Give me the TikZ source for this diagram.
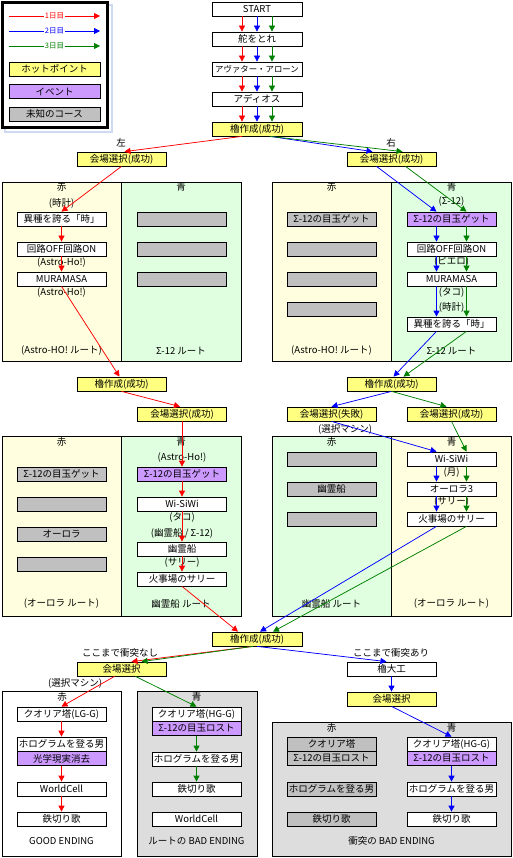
\documentclass[tikz,border=0pt]{standalone}
\usepackage{fontspec}
\setmainfont{Noto Sans CJK JP}
\usepackage{xcolor}
\usepackage{tikz}
\usetikzlibrary{arrows.meta, positioning, calc}
\definecolor{hotyellow}{RGB}{255, 255, 128}
\definecolor{eventpurple}{RGB}{204, 153, 255}
\definecolor{unknowngray}{RGB}{192, 192, 192}
\definecolor{panelyellow}{RGB}{255, 255, 224}
\definecolor{panelgreen}{RGB}{224, 255, 224}
\definecolor{panelgray}{RGB}{221, 221, 221}
\definecolor{dkgreen}{RGB}{0, 128, 0}
\definecolor{frameblue}{RGB}{205, 218, 240}

\begin{document}
\begin{tikzpicture}[x=1pt, y=-1pt, >={Triangle[length=6pt, width=6pt]},
    box/.style={draw, line width=0.75pt, fill=white, minimum width=89pt, minimum height=14pt,
        inner sep=0pt, font=\fontsize{9.5}{10}\selectfont},
    hot/.style={box, fill=hotyellow},
    event/.style={box, fill=eventpurple},
    unknown/.style={box, fill=unknowngray},
    lbl/.style={inner sep=0pt, font=\fontsize{9.5}{10}\selectfont},
    daylbl/.style={fill=white, inner sep=0.5pt, font=\fontsize{7.5}{8}\selectfont},
    panel/.style={draw, line width=0.75pt},
    every path/.append style={line width=0.75pt}]
    \useasboundingbox (0,0) rectangle (513,858);

    % legend
    \draw[frameblue, line width=2pt, fill=white] (5,5) rectangle (112,132);
    \draw[line width=3pt, fill=white] (2.5,2.5) rectangle (107.5,127.5);
    \foreach \i/\c/\y in {1/red/16, 2/blue/31, 3/dkgreen/46} {
        \coordinate (day\i a) at (9,\y);
        \coordinate (day\i b) at (100,\y);
        \draw[->, \c] (day\i a) -- node[daylbl] (day\i) {\i 日目} (day\i b);
    }
    \node[hot, minimum width=91pt] (keyhot) at (54.5,69) {ホットポイント};
    \node[event, minimum width=91pt] (keyevent) at (54.5,91.5) {イベント};
    \node[unknown, minimum width=91pt] (keyunknown) at (54.5,114) {未知のコース};

    % opening
    \node[box, minimum width=90pt] (start) at (257,9) {START};
    \node[box, minimum width=90pt] (rudder) at (257,39) {舵をとれ};
    \node[box, minimum width=90pt, font=\fontsize{8.4}{10}\selectfont] (avatar) at (257,69) {アヴァター・アローン};
    \node[box, minimum width=90pt] (adios) at (257,99) {アディオス};
    \node[hot, minimum width=90pt] (yagura1) at (257,129) {櫓作成(成功)};
    \node[lbl] (leftword) at (121,143) {左};
    \node[lbl] (rightword) at (391,143) {右};
    \node[hot] (selL1) at (121.5,159) {会場選択(成功)};
    \node[hot] (selR1) at (391.5,159) {会場選択(成功)};

    % top left panel
    \draw[panel, fill=panelyellow] (2,182) rectangle (121,361);
    \draw[panel, fill=panelgreen] (121,182) rectangle (241,361);
    \node[lbl] (tlRed) at (61.5,187) {赤};
    \node[lbl] (tlBlue) at (181,187) {青};
    \node[lbl] (tlClock) at (61.5,203) {(時計)};
    \node[box] (tlPride) at (61.5,219) {異種を誇る「時」};
    \node[box] (tlCircuit) at (61.5,249) {回路OFF回路ON};
    \node[lbl] (tlAstroA) at (61.5,263) {(Astro-Ho!)};
    \node[box] (tlMura) at (61.5,279) {MURAMASA};
    \node[lbl] (tlAstroB) at (61.5,293) {(Astro-Ho!)};
    \foreach \y [count=\k] in {219, 249, 279}
        \node[unknown] (tlU\k) at (182,\y) {};
    \node[lbl] (tlRouteA) at (61.5,351) {(Astro-HO! ルート)};
    \node[lbl] (tlRouteB) at (181,351) {Σ-12 ルート};

    % top right panel
    \draw[panel, fill=panelyellow] (272,182) rectangle (391,361);
    \draw[panel, fill=panelgreen] (391,182) rectangle (511,361);
    \node[lbl] (trRed) at (331.5,187) {赤};
    \node[lbl] (trBlue) at (451.5,187) {青};
    \node[lbl] (trSigmaNote) at (451.5,202) {(Σ-12)};
    \node[unknown] (trEye) at (331.5,219) {Σ-12の目玉ゲット};
    \foreach \y [count=\k] in {249, 279, 309}
        \node[unknown] (trU\k) at (331.5,\y) {};
    \node[event] (trSigma) at (451.5,219) {Σ-12の目玉ゲット};
    \node[box] (trCircuit) at (451.5,249) {回路OFF回路ON};
    \node[lbl] (trPierrot) at (451.5,262) {(ピエロ)};
    \node[box] (trMura) at (451.5,279) {MURAMASA};
    \node[lbl] (trOctopus) at (451.5,293) {(タコ)};
    \node[lbl] (trClock) at (451.5,307) {(時計)};
    \node[box] (trPride) at (451.5,324) {異種を誇る「時」};
    \node[lbl] (trRouteA) at (331.5,351) {(Astro-HO! ルート)};
    \node[lbl] (trRouteB) at (451.5,351) {Σ-12 ルート};

    % second round
    \node[hot] (yagura2) at (121.5,384) {櫓作成(成功)};
    \node[hot] (selL2) at (182,414) {会場選択(成功)};
    \node[hot] (yagura3) at (391.5,384) {櫓作成(成功)};
    \node[hot] (selFail) at (331.5,414) {会場選択(失敗)};
    \node[hot] (selR2) at (451.5,414) {会場選択(成功)};
    \node[lbl] (machineA) at (345,429) {(選択マシン)};

    % middle left panel
    \draw[panel, fill=panelyellow] (2,436) rectangle (121,616);
    \draw[panel, fill=panelgreen] (121,436) rectangle (241,616);
    \node[lbl] (mlRed) at (61.5,442) {赤};
    \node[lbl] (mlBlue) at (181,442) {青};
    \node[lbl] (mlAstro) at (182,458) {(Astro-Ho!)};
    \node[unknown] (mlEye) at (61.5,474) {Σ-12の目玉ゲット};
    \node[unknown] (mlU1) at (61.5,504) {};
    \node[unknown] (mlAurora) at (61.5,534) {オーロラ};
    \node[unknown] (mlU2) at (61.5,564) {};
    \node[event] (mlSigma) at (182,474) {Σ-12の目玉ゲット};
    \node[box] (mlWisiwi) at (182,504) {Wi-SiWi};
    \node[lbl] (mlOctopus) at (182,518) {(タコ)};
    \node[lbl] (mlGhostNote) at (182,533) {(幽霊船 / Σ-12)};
    \node[box] (mlGhost) at (182,549) {幽霊船};
    \node[lbl] (mlSallyNote) at (182,563) {(サリー)};
    \node[box] (mlSally) at (182,579) {火事場のサリー};
    \node[lbl] (mlRouteA) at (61.5,604) {(オーロラ ルート)};
    \node[lbl] (mlRouteB) at (181,604) {幽霊船 ルート};

    % middle right panel
    \draw[panel, fill=panelgreen] (272,436) rectangle (391,616);
    \draw[panel, fill=panelyellow] (391,436) rectangle (511,616);
    \node[lbl] (mrRed) at (331.5,442) {赤};
    \node[lbl] (mrBlue) at (451.5,442) {青};
    \node[unknown] (mrU1) at (331.5,459) {};
    \node[unknown] (mrGhost) at (331.5,489) {幽霊船};
    \node[unknown] (mrU2) at (331.5,519) {};
    \node[box] (mrWisiwi) at (451.5,459) {Wi-SiWi};
    \node[lbl] (mrMoon) at (451.5,473) {(月)};
    \node[box] (mrAurora) at (451.5,489) {オーロラ3};
    \node[lbl] (mrSallyNote) at (451.5,502) {(サリー)};
    \node[box] (mrSally) at (451.5,519) {火事場のサリー};
    \node[lbl] (mrRouteA) at (331.5,604) {幽霊船 ルート};
    \node[lbl] (mrRouteB) at (451.5,604) {(オーロラ ルート)};

    % final round
    \node[hot, minimum width=90pt] (yagura4) at (257,639) {櫓作成(成功)};
    \node[lbl] (noclash) at (120,653) {ここまで衝突なし};
    \node[lbl] (clash) at (391,653) {ここまで衝突あり};
    \node[hot] (selB1) at (121.5,669) {会場選択};
    \node[box] (carpenter) at (391.5,669) {櫓大工};
    \node[hot] (selB2) at (391.5,699) {会場選択};
    \node[lbl] (machineB) at (75,683) {(選択マシン)};

    % endings
    \draw[panel, fill=white] (2,691) rectangle (121,856);
    \draw[panel, fill=panelgray] (137,691) rectangle (257,856);
    \draw[panel, fill=panelgray] (272,722) rectangle (511,856);
    \node[lbl] (blRed) at (62,697) {赤};
    \node[box] (blQualia) at (61.5,714) {クオリア塔(LG-G)};
    \node[box] (blHolo) at (61.5,744) {ホログラムを登る男};
    \node[event] (blErase) at (61.5,758.5) {光学現実消去};
    \node[box] (blWorld) at (61.5,789) {WorldCell};
    \node[box] (blSong) at (61.5,819) {鉄切り歌};
    \node[lbl] (blEnd) at (61.5,841) {GOOD ENDING};
    \node[lbl] (bmBlue) at (196.5,697) {青};
    \node[box] (bmQualia) at (196.5,714) {クオリア塔(HG-G)};
    \node[event] (bmLost) at (196.5,728.5) {Σ-12の目玉ロスト};
    \node[box] (bmHolo) at (196.5,759) {ホログラムを登る男};
    \node[box] (bmSong) at (196.5,789) {鉄切り歌};
    \node[box] (bmWorld) at (196.5,819) {WorldCell};
    \node[lbl] (bmEnd) at (196.5,841) {ルートの BAD ENDING};
    \node[lbl] (brRed) at (331.5,728) {赤};
    \node[lbl] (brBlue) at (451.5,728) {青};
    \node[unknown] (brQualiaL) at (331.5,744) {クオリア塔};
    \node[unknown] (brLostL) at (331.5,758.5) {Σ-12の目玉ロスト};
    \node[unknown] (brHoloL) at (331.5,789) {ホログラムを登る男};
    \node[unknown] (brSongL) at (331.5,819) {鉄切り歌};
    \node[box] (brQualia) at (451.5,744) {クオリア塔(HG-G)};
    \node[event] (brLost) at (451.5,758.5) {Σ-12の目玉ロスト};
    \node[box] (brHolo) at (451.5,789) {ホログラムを登る男};
    \node[box] (brSong) at (451.5,819) {鉄切り歌};
    \node[lbl] (brEnd) at (391.5,841) {衝突の BAD ENDING};

    % arrows: opening
    \foreach \a/\b in {start/rudder, rudder/avatar, avatar/adios, adios/yagura1} {
        \draw[->, red] ([xshift=-15pt]\a.south) -- ([xshift=-15pt]\b.north);
        \draw[->, blue] (\a.south) -- (\b.north);
        \draw[->, dkgreen] ([xshift=15pt]\a.south) -- ([xshift=15pt]\b.north);
    }
    \draw[->, red] ([xshift=-15pt]yagura1.south) -- ([xshift=3pt]selL1.north);
    \draw[->, blue] ([xshift=13pt]yagura1.south) -- ([xshift=-19pt]selR1.north);
    \draw[->, dkgreen] ([xshift=13pt]yagura1.south) -- ([xshift=11pt]selR1.north);

    % arrows: top panels
    \draw[->, red] (selL1.south) -- (tlPride.north);
    \draw[->, red] (tlPride.south) -- (tlCircuit.north);
    \draw[->, red] (tlCircuit.south) -- (tlMura.north);
    \draw[->, red] (tlMura.south) -- ([xshift=-2pt]yagura2.north);
    \draw[->, blue] ([xshift=-15pt]selR1.south) -- ([xshift=-15pt]trSigma.north);
    \draw[->, dkgreen] ([xshift=14pt]selR1.south) -- ([xshift=15pt]trSigma.north);
    \foreach \a/\b in {trSigma/trCircuit, trCircuit/trMura, trMura/trPride} {
        \draw[->, blue] ([xshift=-15pt]\a.south) -- ([xshift=-15pt]\b.north);
        \draw[->, dkgreen] ([xshift=15pt]\a.south) -- ([xshift=15pt]\b.north);
    }
    \draw[->, blue] ([xshift=-15pt]trPride.south) -- ([xshift=2pt]yagura3.north);
    \draw[->, dkgreen] ([xshift=15pt]trPride.south) -- ([xshift=12pt]yagura3.north);

    % arrows: second round
    \draw[->, red] (yagura2.south) -- ([xshift=-2pt]selL2.north);
    \draw[->, blue] (yagura3.south) -- (selFail.north);
    \draw[->, dkgreen] (yagura3.south) -- ([xshift=-5pt]selR2.north);
    \draw[->, red] (selL2.south) -- (mlSigma.north);
    \foreach \a/\b in {mlSigma/mlWisiwi, mlWisiwi/mlGhost, mlGhost/mlSally}
        \draw[->, red] (\a.south) -- (\b.north);
    \draw[->, blue] (selFail.south) -- ([xshift=-15pt]mrWisiwi.north);
    \draw[->, dkgreen] (selR2.south) -- ([xshift=15pt]mrWisiwi.north);
    \foreach \a/\b in {mrWisiwi/mrAurora, mrAurora/mrSally} {
        \draw[->, blue] ([xshift=-15pt]\a.south) -- ([xshift=-15pt]\b.north);
        \draw[->, dkgreen] ([xshift=15pt]\a.south) -- ([xshift=15pt]\b.north);
    }
    \draw[->, red] (mlSally.south) -- ([xshift=-19pt]yagura4.north);
    \draw[->, blue] ([xshift=-15pt]mrSally.south) -- ([xshift=3pt]yagura4.north);
    \draw[->, dkgreen] ([xshift=15pt]mrSally.south) -- ([xshift=16pt]yagura4.north);

    % arrows: final round
    \draw[->, red] ([xshift=-4pt]yagura4.south) -- ([xshift=10pt]selB1.north);
    \draw[->, dkgreen] ([xshift=-4pt]yagura4.south) -- ([xshift=20pt]selB1.north);
    \draw[->, blue] (yagura4.south) -- ([xshift=-5pt]carpenter.north);
    \draw[->, blue] (carpenter.south) -- (selB2.north);
    \draw[->, red] ([xshift=-7pt]selB1.south) -- (blQualia.north);
    \draw[->, dkgreen] ([xshift=14pt]selB1.south) -- (bmQualia.north);
    \draw[->, blue] (selB2.south) -- (brQualia.north);
    \foreach \a/\b in {blQualia/blHolo, blErase/blWorld, blWorld/blSong}
        \draw[->, red] (\a.south) -- (\b.north);
    \foreach \a/\b in {bmLost/bmHolo, bmHolo/bmSong}
        \draw[->, dkgreen] (\a.south) -- (\b.north);
    \foreach \a/\b in {brLost/brHolo, brHolo/brSong}
        \draw[->, blue] (\a.south) -- (\b.north);
\end{tikzpicture}
\end{document}
